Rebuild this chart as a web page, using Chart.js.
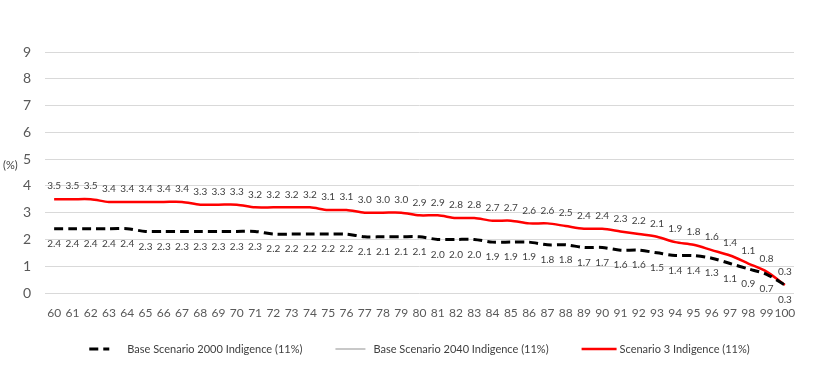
<!DOCTYPE html>
<html>
<head>
<meta charset="utf-8">
<script src="https://cdn.jsdelivr.net/npm/chart.js@4"></script>
<style>
  body { margin: 0; background: #fff; }
  #wrap { width: 814px; height: 376px; }
</style>
</head>
<body>
<div id="wrap"><canvas id="grafico"></canvas></div>
<script>
// ages on the x axis
const idades = [60, 61, 62, 63, 64, 65, 66, 67, 68, 69, 70, 71, 72, 73, 74, 75, 76, 77, 78, 79, 80,
    81, 82, 83, 84, 85, 86, 87, 88, 89, 90, 91, 92, 93, 94, 95, 96, 97, 98, 99, 100];

const base2000 = [2.4, 2.4, 2.4, 2.4, 2.4, 2.3, 2.3, 2.3, 2.3, 2.3, 2.3, 2.3, 2.2, 2.2, 2.2, 2.2, 2.2, 2.1, 2.1, 2.1, 2.1,
    2.0, 2.0, 2.0, 1.9, 1.9, 1.9, 1.8, 1.8, 1.7, 1.7, 1.6, 1.6, 1.5, 1.4, 1.4, 1.3, 1.1, 0.9, 0.7, 0.3];

// not visible in the picture
const base2040 = [];

const cenario3 = [3.5, 3.5, 3.5, 3.4, 3.4, 3.4, 3.4, 3.4, 3.3, 3.3, 3.3, 3.2, 3.2, 3.2, 3.2, 3.1, 3.1, 3.0, 3.0, 3.0, 2.9,
    2.9, 2.8, 2.8, 2.7, 2.7, 2.6, 2.6, 2.5, 2.4, 2.4, 2.3, 2.2, 2.1, 1.9, 1.8, 1.6, 1.4, 1.1, 0.8, 0.3];

const ticksY = [0, 1, 2, 3, 4, 5, 6, 7, 8, 9];

const fonte = 'Lato, "Open Sans", sans-serif';

// value labels above / below each point, the "(%)" note and the legend
const rotulos = {
    id: 'rotulos',
    afterDatasetsDraw(chart) {
        const ctx = chart.ctx;
        ctx.save();
        ctx.font = '10px ' + fonte;
        ctx.fillStyle = '#404040';
        ctx.textAlign = 'center';
        ctx.textBaseline = 'middle';
        chart.data.datasets.forEach((ds, i) => {
            if (!ds.deslocamento) return;
            const meta = chart.getDatasetMeta(i);
            meta.data.forEach((p, j) => {
                ctx.fillText(ds.data[j].toFixed(1), p.x, p.y + ds.deslocamento);
            });
        });
        ctx.restore();
    },
    afterDraw(chart) {
        const ctx = chart.ctx;
        const area = chart.chartArea;
        ctx.save();
        ctx.font = '11px ' + fonte;
        ctx.fillStyle = '#404040';
        ctx.textBaseline = 'middle';
        ctx.fillText('(%)', 3, chart.scales.y.getPixelForValue(4.75));

        // legend: key slot, text, gap
        const slot = 38, gap = 33, yLeg = 349;
        const itens = chart.data.datasets;
        const larguras = itens.map(ds => slot + ctx.measureText(ds.label).width);
        const total = larguras.reduce((a, b) => a + b, 0) + gap * (itens.length - 1);
        let x = (area.left + area.right) / 2 - total / 2;
        itens.forEach((ds, i) => {
            ctx.beginPath();
            ctx.strokeStyle = ds.borderColor;
            ctx.lineWidth = ds.borderWidth;
            ctx.setLineDash(ds.borderDash || []);
            ctx.moveTo(x, yLeg);
            ctx.lineTo(x + ds.chave, yLeg);
            ctx.stroke();
            ctx.setLineDash([]);
            ctx.fillStyle = '#404040';
            ctx.fillText(ds.label, x + slot, yLeg);
            x += larguras[i] + gap;
        });
        ctx.restore();
    }
};

new Chart(document.getElementById('grafico'), {
    type: 'line',
    data: {
        labels: idades,
        datasets: [
            {
                label: 'Base Scenario 2000 Indigence (11%)',
                data: base2000,
                borderColor: '#000000',
                borderWidth: 3,
                borderDash: [9, 5],
                pointRadius: 0,
                tension: 0.3,
                deslocamento: 15,
                chave: 20
            },
            {
                label: 'Base Scenario 2040 Indigence (11%)',
                data: base2040,
                borderColor: '#c8c8c8',
                borderWidth: 2,
                pointRadius: 0,
                chave: 30
            },
            {
                label: 'Scenario 3 Indigence (11%)',
                data: cenario3,
                borderColor: '#ff0000',
                borderWidth: 2.5,
                pointRadius: 0,
                tension: 0.3,
                deslocamento: -13,
                chave: 35
            }
        ]
    },
    options: {
        responsive: true,
        maintainAspectRatio: false,
        animation: false,
        layout: { padding: { top: 52, right: 20, bottom: 43, left: 0 } },
        plugins: {
            legend: { display: false },
            tooltip: { enabled: false }
        },
        scales: {
            x: {
                offset: true,
                afterFit: axis => { axis.height = 40; },
                grid: { display: false },
                border: { display: false },
                ticks: {
                    color: '#595959',
                    font: { family: fonte, size: 12 },
                    maxRotation: 0,
                    autoSkip: false,
                    padding: 5
                }
            },
            y: {
                min: 0,
                max: 9,
                afterBuildTicks: axis => { axis.ticks = ticksY.map(v => ({ value: v })); },
                afterFit: axis => { axis.width = 45; },
                grid: { color: '#d9d9d9', lineWidth: 1, drawTicks: false },
                border: { display: false },
                ticks: {
                    color: '#595959',
                    font: { family: fonte, size: 14 },
                    padding: 14
                }
            }
        }
    },
    plugins: [rotulos]
});
</script>
</body>
</html>
